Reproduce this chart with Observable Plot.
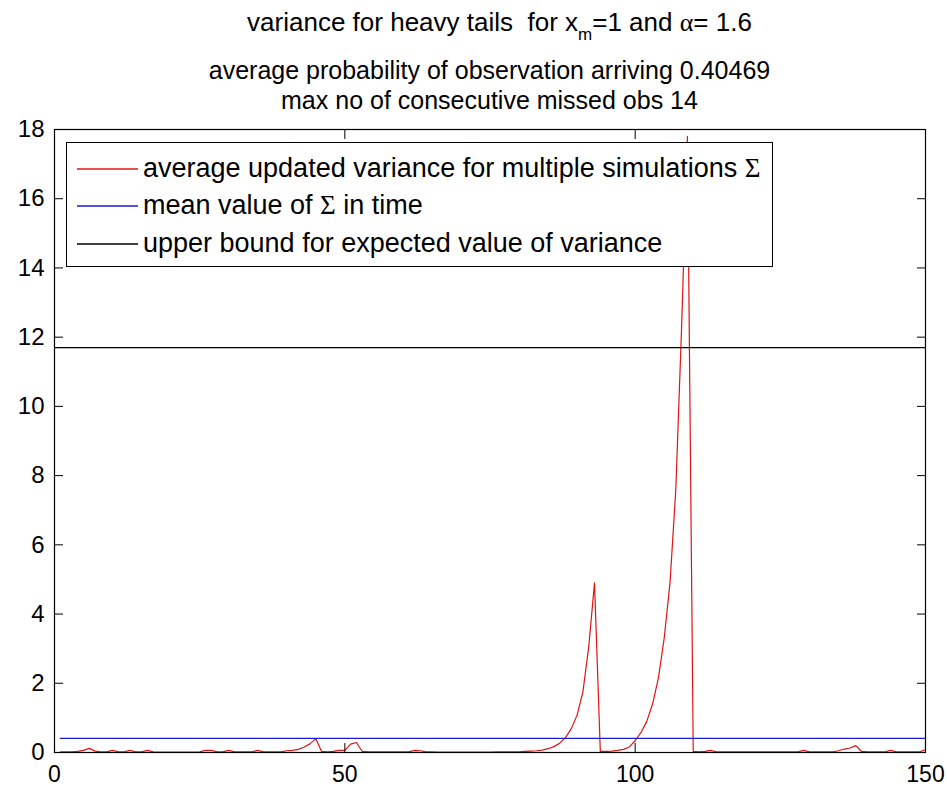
<!DOCTYPE html>
<html>
<head>
<meta charset="utf-8">
<script src="https://cdn.jsdelivr.net/npm/d3@7"></script>
<script src="https://cdn.jsdelivr.net/npm/@observablehq/plot@0.6"></script>
<style>
  html, body { margin: 0; padding: 0; background: #fff; overflow: hidden; }
  #wrap { position: relative; width: 947px; height: 788px; font-family: "Liberation Sans", Arial, Helvetica, sans-serif; color: #000; }
  #chart { position: absolute; left: 0; top: 0; }
  .ttl { position: absolute; left: 32px; width: 915px; text-align: center; font-size: 25px; line-height: 25px; white-space: nowrap; }
  .sym { font-family: "Liberation Serif", "DejaVu Serif", serif; }
  .sub { font-size: 17px; position: relative; top: 9px; }
  #legend { position: absolute; left: 66px; top: 142px; width: 707px; height: 125px; box-sizing: border-box; border: 1px solid #000; background: #fff; }
  .lgsw { position: absolute; left: 77px; width: 61px; height: 6px; overflow: visible; }
  .lgtext { position: absolute; left: 143px; font-size: 27px; line-height: 27px; white-space: nowrap; }
</style>
</head>
<body>
<div id="wrap">
  <div id="chart"></div>
  <div class="ttl" style="top:9px;left:42px;font-size:26px;line-height:26px">variance for heavy tails&nbsp; for x<span class="sub">m</span>=1 and <span class="sym">α</span>= 1.6</div>
  <div class="ttl" style="top:58px">average probability of observation arriving 0.40469</div>
  <div class="ttl" style="top:88px">max no of consecutive missed obs 14</div>
  <div id="legend"></div>
  <svg class="lgsw" style="top:166px"><line x1="0" x2="61" y1="3" y2="3" stroke="#e01414" stroke-width="1.6"/></svg>
  <div class="lgtext" style="top:155px">average updated variance for multiple simulations <span class="sym">Σ</span></div>
  <svg class="lgsw" style="top:203px"><line x1="0" x2="61" y1="3" y2="3" stroke="#1a1ad0" stroke-width="1.4"/></svg>
  <div class="lgtext" style="top:192px">mean value of <span class="sym">Σ</span> in time</div>
  <svg class="lgsw" style="top:241px"><line x1="0" x2="61" y1="3" y2="3" stroke="#000" stroke-width="1.3"/></svg>
  <div class="lgtext" style="top:230px">upper bound for expected value of variance</div>
</div>
<script>
// average updated variance Σ at time steps 1..150
const sigmaValues = [
  0.02, 0.02, 0.02, 0.03, 0.06, 0.12, 0.04, 0.02, 0.02, 0.06,
  0.02, 0.02, 0.06, 0.02, 0.02, 0.06, 0.02, 0.01, 0.01, 0.01,
  0.01, 0.01, 0.01, 0.01, 0.02, 0.06, 0.06, 0.02, 0.02, 0.06,
  0.02, 0.02, 0.02, 0.02, 0.06, 0.02, 0.02, 0.02, 0.02, 0.05,
  0.06, 0.09, 0.16, 0.25, 0.40, 0.03, 0.02, 0.03, 0.06, 0.06,
  0.24, 0.29, 0.03, 0.02, 0.02, 0.02, 0.02, 0.02, 0.02, 0.02,
  0.02, 0.06, 0.05, 0.02, 0.02, 0.01, 0.01, 0.01, 0.01, 0.01,
  0.01, 0.01, 0.01, 0.01, 0.01, 0.02, 0.02, 0.02, 0.02, 0.02,
  0.03, 0.04, 0.05, 0.07, 0.11, 0.17, 0.27, 0.43, 0.69, 1.08,
  1.75, 3.05, 4.90, 0.03, 0.03, 0.04, 0.06, 0.09, 0.16, 0.34,
  0.58, 0.90, 1.40, 2.15, 3.30, 4.90, 7.60, 12.3, 17.8, 0.03,
  0.02, 0.03, 0.06, 0.02, 0.02, 0.02, 0.02, 0.02, 0.02, 0.02,
  0.02, 0.02, 0.02, 0.02, 0.02, 0.02, 0.02, 0.02, 0.06, 0.02,
  0.02, 0.02, 0.02, 0.02, 0.05, 0.10, 0.13, 0.20, 0.03, 0.02,
  0.02, 0.02, 0.02, 0.06, 0.02, 0.02, 0.02, 0.02, 0.02, 0.08
];
const meanSigma = 0.41;        // mean value of Σ in time
const upperBound = 11.7;       // upper bound for expected value of variance
const xTicks = [0, 50, 100, 150];
const yTicks = [0, 2, 4, 6, 8, 10, 12, 14, 16, 18];
const xDomain = [0, 150];
const yDomain = [0, 18];

const series = sigmaValues.map((v, i) => ({t: i + 1, v}));
const tFirst = series[0].t, tLast = series[series.length - 1].t;

const chart = Plot.plot({
  width: 947,
  height: 788,
  marginTop: 129,
  marginBottom: 36,
  marginLeft: 54,
  marginRight: 22,
  style: {fontFamily: '"Liberation Sans", Arial, Helvetica, sans-serif', fontSize: "23px", color: "#000", background: "#fff"},
  x: {domain: xDomain},
  y: {domain: yDomain},
  marks: [
    Plot.line(series, {x: "t", y: "v", stroke: "#e01414", strokeWidth: 1.2, clip: true}),
    Plot.ruleY([meanSigma], {x1: () => tFirst, x2: () => tLast, stroke: "#1a1ad0", strokeWidth: 1.3}),
    Plot.ruleY([upperBound], {stroke: "#000", strokeWidth: 1.3}),
    Plot.axisY(yTicks, {anchor: "left", tickSize: 0, tickPadding: 10, label: null, fontSize: 24}),
    Plot.axisY(yTicks, {anchor: "left", tickSize: -9, tickFormat: () => "", label: null}),
    Plot.axisY(yTicks, {anchor: "right", tickSize: -9, tickFormat: () => "", label: null}),
    Plot.axisX(xTicks, {anchor: "bottom", tickSize: 0, tickPadding: 13, label: null, fontSize: 23}),
    Plot.axisX(xTicks, {anchor: "bottom", tickSize: -9, tickFormat: () => "", label: null}),
    Plot.axisX(xTicks, {anchor: "top", tickSize: -9, tickFormat: () => "", label: null}),
    Plot.frame({stroke: "#000", strokeWidth: 1.2})
  ]
});
document.getElementById("chart").appendChild(chart);
</script>
</body>
</html>
